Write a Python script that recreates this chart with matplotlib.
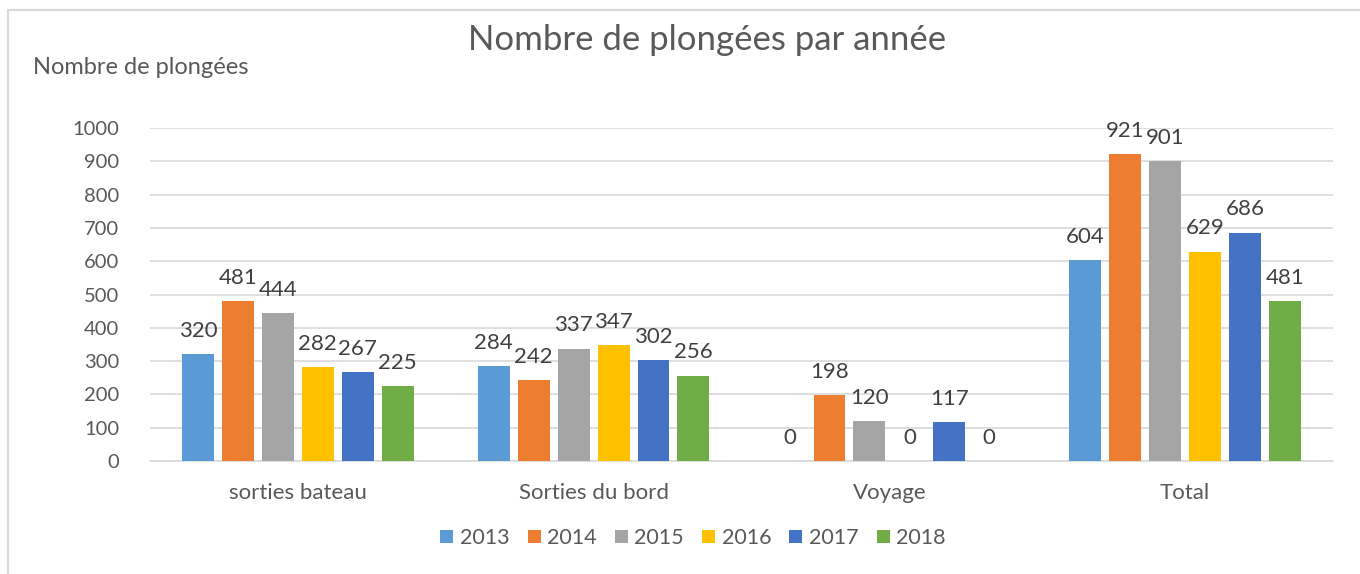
import numpy as np
import matplotlib
matplotlib.use('Agg')
import matplotlib.pyplot as plt
from matplotlib.patches import Rectangle

categories = ['sorties bateau', 'Sorties du bord', 'Voyage', 'Total']
years = ['2013', '2014', '2015', '2016', '2017', '2018']
values = {
    '2013': [320, 284, 0, 604],
    '2014': [481, 242, 198, 921],
    '2015': [444, 337, 120, 901],
    '2016': [282, 347, 0, 629],
    '2017': [267, 302, 117, 686],
    '2018': [225, 256, 0, 481],
}
colors = ['#5B9BD5', '#ED7D31', '#A5A5A5', '#FFC000', '#4472C4', '#70AD47']

plt.rcParams['font.family'] = ['Lato', 'DejaVu Sans']

fig = plt.figure(figsize=(13.6, 5.74), dpi=100)
ax = fig.add_axes([150 / 1360, 1 - 461 / 574, 1183 / 1360, 333 / 574])

# cadre du graphique
fig.patches.append(Rectangle((8 / 1360, -0.1), 1.2, 1 - 10 / 574 + 0.1,
                             transform=fig.transFigure, fill=False,
                             edgecolor='#D9D9D9', linewidth=1.5))

x = np.arange(len(categories))
step = 0.135
width = 0.108
for i, (yr, c) in enumerate(zip(years, colors)):
    pos = x + (i - 2.5) * step
    bars = ax.bar(pos, values[yr], width=width, color=c, label=yr, zorder=3)
    for b, v in zip(bars, values[yr]):
        ax.text(b.get_x() + b.get_width() / 2, v + 40, str(v), ha='center', va='bottom',
                fontsize=16, color='#404040')

ax.set_xlim(-0.5, 3.5)
ax.set_ylim(0, 1000)
ax.set_yticks(range(0, 1001, 100))
ax.grid(axis='y', color='#D9D9D9', linewidth=1.2, zorder=0)
ax.set_xticks(x)
ax.set_xticklabels(categories)
ax.tick_params(axis='both', length=0, labelsize=14.5, labelcolor='#595959')
ax.tick_params(axis='x', pad=16, labelsize=16)
ax.tick_params(axis='y', pad=22)
for s in ['top', 'right', 'left']:
    ax.spines[s].set_visible(False)
ax.spines['bottom'].set_color('#D9D9D9')
ax.spines['bottom'].set_linewidth(1.2)

fig.text(707 / 1360, 1 - 40 / 574, 'Nombre de plongées par année', ha='center', va='center',
         fontsize=25, color='#595959')
fig.text(33 / 1360, 1 - 68 / 574, 'Nombre de plongées', ha='left', va='center',
         fontsize=17, color='#595959')

fig.legend(loc='center', bbox_to_anchor=(693 / 1360, 1 - 538 / 574), ncol=6,
           frameon=False, fontsize=15.5, handlelength=0.6, handleheight=0.6,
           handletextpad=0.3, columnspacing=0.85, labelcolor='#595959')

fig.savefig('out.png', dpi=100)
